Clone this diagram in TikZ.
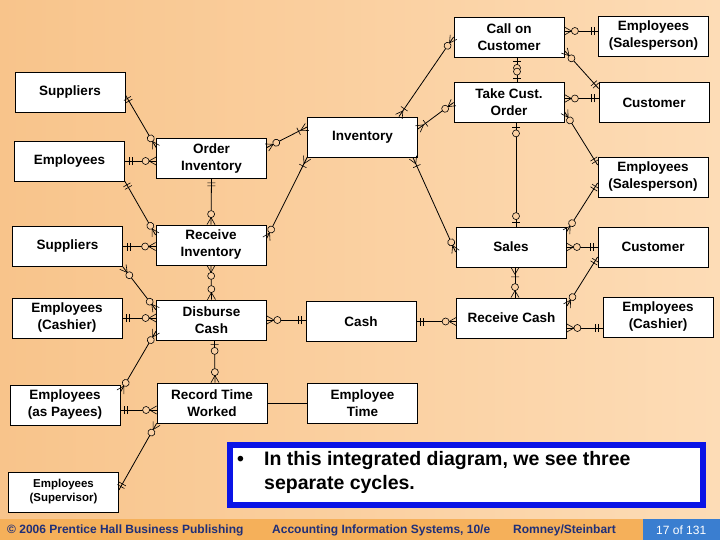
\documentclass[tikz,border=0pt]{standalone}
\usepackage{fontspec}
\setmainfont{Liberation Sans}
\usetikzlibrary{calc,decorations.markings}

\definecolor{bgleft}{HTML}{F8C48B}
\definecolor{bgright}{HTML}{FDDCB6}
\definecolor{ringfill}{HTML}{FBD0A2}
\definecolor{footorange}{HTML}{F5B05A}
\definecolor{footblue}{HTML}{3A7ED0}
\definecolor{footnavy}{HTML}{1F2F78}
\definecolor{noteblue}{HTML}{0A14E6}

% crow's foot ends, drawn with the entity box on the +x side
\newcommand{\erOne}{\draw[line width=0.6pt] (-4pt,-4pt) -- (-4pt,4pt) (-7pt,-4pt) -- (-7pt,4pt);}
\newcommand{\erMany}{\draw[line width=0.6pt] (-7pt,0) -- (0,4pt) (-7pt,0) -- (0,-4pt);
  \draw[line width=0.6pt,fill=ringfill] (-10.5pt,0) circle (3.5pt);}
\newcommand{\erOneMany}{\draw[line width=0.6pt] (-7pt,0) -- (0,4pt) (-7pt,0) -- (0,-4pt) (-9.5pt,-4pt) -- (-9.5pt,4pt);}
\newcommand{\erZeroOne}{\draw[line width=0.6pt] (-4pt,-4pt) -- (-4pt,4pt);
  \draw[line width=0.6pt,fill=ringfill] (-10.5pt,0) circle (3.5pt);}

\tikzset{
  eOne/.style={postaction={decorate,decoration={markings,mark=at position 1 with {\erOne}}}},
  sOne/.style={postaction={decorate,decoration={markings,mark=at position 0 with {\begin{scope}[xscale=-1]\erOne\end{scope}}}}},
  eMany/.style={postaction={decorate,decoration={markings,mark=at position 1 with {\erMany}}}},
  sMany/.style={postaction={decorate,decoration={markings,mark=at position 0 with {\begin{scope}[xscale=-1]\erMany\end{scope}}}}},
  eOneMany/.style={postaction={decorate,decoration={markings,mark=at position 1 with {\erOneMany}}}},
  sOneMany/.style={postaction={decorate,decoration={markings,mark=at position 0 with {\begin{scope}[xscale=-1]\erOneMany\end{scope}}}}},
  eZeroOne/.style={postaction={decorate,decoration={markings,mark=at position 1 with {\erZeroOne}}}},
  sZeroOne/.style={postaction={decorate,decoration={markings,mark=at position 0 with {\begin{scope}[xscale=-1]\erZeroOne\end{scope}}}}}
}

\begin{document}
\begin{tikzpicture}[
    x=1pt, y=-1pt,
    ent/.style={draw, line width=0.8pt, fill=white, minimum width=110pt, minimum height=40pt,
      inner sep=2pt, align=center, font=\fontsize{13.5}{17}\selectfont\bfseries},
    rel/.style={line width=0.8pt},
    foot/.style={anchor=west, inner sep=0pt, font=\fontsize{12}{14}\selectfont\bfseries, text=footnavy}
]
  \shade[left color=bgleft, right color=bgright] (0,0) rectangle (720,540);

  % entities and events
  \node[ent] (supT) at (70,92) {Suppliers};
  \node[ent] (empA) at (69.5,161) {Employees};
  \node[ent] (ordInv) at (211.5,158.5) {Order\\Inventory};
  \node[ent] (inv) at (362.5,137) {Inventory};
  \node[ent] (callC) at (509,37) {Call on\\Customer};
  \node[ent] (empS1) at (653.5,36) {Employees\\(Salesperson)};
  \node[ent] (takeO) at (509,102.5) {Take Cust.\\Order};
  \node[ent] (custA) at (654,102.5) {Customer};
  \node[ent] (empS2) at (653,177) {Employees\\(Salesperson)};
  \node[ent] (sales) at (511,247) {Sales};
  \node[ent] (custB) at (653,247) {Customer};
  \node[ent] (recInv) at (211,245) {Receive\\Inventory};
  \node[ent] (supB) at (67.5,246.5) {Suppliers};
  \node[ent] (empC1) at (67,318) {Employees\\(Cashier)};
  \node[ent] (disC) at (211.5,320) {Disburse\\Cash};
  \node[ent] (cash) at (361,321.5) {Cash};
  \node[ent] (recCash) at (511.5,318) {Receive Cash};
  \node[ent] (empC2) at (658,317) {Employees\\(Cashier)};
  \node[ent] (empP) at (65,405) {Employees\\(as Payees)};
  \node[ent] (recTime) at (212,403) {Record Time\\Worked};
  \node[ent] (empTime) at (362.5,403) {Employee\\Time};
  \node[ent, font=\fontsize{11.5}{14}\selectfont\bfseries] (empSup) at (63.5,492) {Employees\\(Supervisor)};

  % expenditure cycle
  \draw[rel,sOne,eMany] ($(supT.east)+(0,3)$) -- ($(ordInv.west)+(0,-11)$);
  \draw[rel,sOne,eMany] (empA.east) -- (ordInv.west |- empA.east);
  \draw[rel,sMany,eOneMany] ($(ordInv.east)+(0,-11)$) -- ($(inv.west)+(0,-10)$);
  \draw[rel,sOne,eMany] (ordInv.south) -- (recInv.north);
  \draw[rel,sOne,eMany] (empA.south east) -- ($(recInv.west)+(0,-10)$);
  \draw[rel,sOneMany,eMany] (inv.south west) -- ($(recInv.east)+(0,-6)$);
  \draw[rel,sOne,eMany] (supB.east) -- (recInv.west |- supB.east);
  \draw[rel,sMany,eMany] (recInv.south) -- (disC.north);
  \draw[rel,sMany,eMany] (supB.south east) -- ($(disC.west)+(0,-10)$);
  \draw[rel,sOne,eMany] (empC1.east) -- (disC.west |- empC1.east);
  \draw[rel,sMany,eOne] (disC.east) -- (cash.west |- disC.east);

  % payroll cycle
  \draw[rel,sZeroOne,eMany] ($(disC.south)+(3,0)$) -- ($(recTime.north)+(3,0)$);
  \draw[rel,sMany,eMany] ($(disC.west)+(0,11)$) -- ($(empP.east)+(0,-13)$);
  \draw[rel,sOne,eMany] ($(empP.east)+(0,5)$) -- ($(recTime.west)+(0,7)$);
  \draw[rel,sOne,eMany] ($(empSup.east)+(0,-2)$) -- (recTime.south west);
  \draw[rel] (recTime) -- (empTime);

  % revenue cycle
  \draw[rel,sOne,eMany] (cash.east) -- (recCash.west |- cash.east);
  \draw[rel,sOneMany,eMany] ($(inv.north east)+(-19,0)$) -- (callC.west);
  \draw[rel,sOneMany,eMany] ($(inv.east)+(0,-8)$) -- (takeO.west);
  \draw[rel,sMany,eOne] ($(callC.east)+(0,-6)$) -- ($(empS1.west)+(0,-5)$);
  \draw[rel,sMany,eOne] ($(callC.east)+(0,13.5)$) -- ($(custA.west)+(0,-14)$);
  \draw[rel,sZeroOne,eZeroOne] ($(callC.south)+(8,0)$) -- ($(takeO.north)+(8,0)$);
  \draw[rel,sMany,eOne] ($(takeO.east)+(0,-4)$) -- ($(custA.west)+(0,-4)$);
  \draw[rel,sMany,eOne] ($(takeO.east)+(0,9)$) -- ($(empS2.west)+(0,-12)$);
  \draw[rel,sZeroOne,eZeroOne] ($(takeO.south)+(7,0)$) -- ($(sales.north)+(5,0)$);
  \draw[rel,sOneMany,eMany] ($(inv.south east)+(-5,0)$) -- ($(sales.west)+(0,5)$);
  \draw[rel,sMany,eOne] ($(sales.east)+(0,-15)$) -- ($(empS2.west)+(0,6)$);
  \draw[rel,sMany,eOne] (sales.east) -- (custB.west);
  \draw[rel,sOneMany,eMany] ($(sales.south)+(4,0)$) -- ($(recCash.north)+(3.5,0)$);
  \draw[rel,sMany,eOne] ($(recCash.east)+(0,-12)$) -- ($(custB.west)+(0,10)$);
  \draw[rel,sMany,eOne] ($(recCash.east)+(0,10)$) -- ($(empC2.west)+(0,11)$);

  % note
  \node[draw=noteblue, line width=6pt, fill=white, minimum width=473pt, minimum height=60pt, inner sep=0pt]
    (noteBox) at (466.5,475) {};
  \node[anchor=west, inner sep=0pt, font=\fontsize{19.5}{24}\selectfont\bfseries] (noteText) at (237,473)
    {\begin{tabular}{@{}p{27pt}@{}l@{}}\textbullet & In this integrated diagram, we see three\\ & separate cycles.\end{tabular}};

  % footer
  \fill[footorange] (0,519) rectangle (720,540);
  \fill[footblue] (643,519) rectangle (720,540);
  \node[foot] (pub) at (7,530) {© 2006 Prentice Hall Business Publishing};
  \node[foot] (book) at (272,530) {Accounting Information Systems, 10/e};
  \node[foot] (auth) at (513,530) {Romney/Steinbart};
  \node[foot, font=\fontsize{12}{14}\selectfont, text=white] (page) at (656,530) {17 of 131};
\end{tikzpicture}
\end{document}
